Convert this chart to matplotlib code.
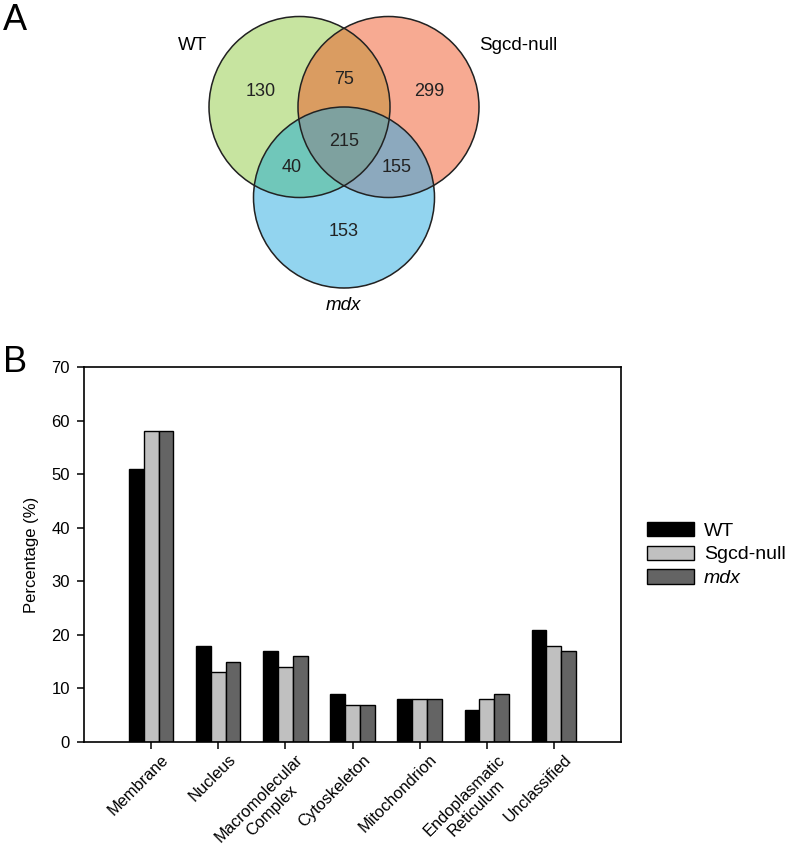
import numpy as np
import matplotlib
matplotlib.use("Agg")
from matplotlib import pyplot as plt
from matplotlib.patches import Circle
import matplotlib.transforms as mtransforms

plt.rcParams['font.family'] = ['Liberation Sans', 'DejaVu Sans']

# ---------------- data ----------------
venn_sets = ['WT', 'Sgcd-null', 'mdx']
# regions: WT only, Sgcd only, mdx only, WT&Sgcd, WT&mdx, Sgcd&mdx, all three
venn_counts = [130, 299, 153, 75, 40, 155, 215]

categories = ['Membrane', 'Nucleus', 'Macromolecular\nComplex', 'Cytoskeleton',
              'Mitochondrion', 'Endoplasmatic\nReticulum', 'Unclassified']
wt = [51, 18, 17, 9, 8, 6, 21]
sgcd = [58, 13, 14, 7, 8, 8, 18]
mdx = [58, 15, 16, 7, 8, 9, 17]

W, H = 793, 848
fig = plt.figure(figsize=(W / 100, H / 100), dpi=100)

#--------------------------Venn (A)-----------------------------------------
vh = 320
axv = fig.add_axes([0, 1 - vh / H, 1, vh / H])
axv.set_xlim(0, W)
axv.set_ylim(vh, 0)
axv.axis('off')

r = 90.5
centros = [(299.5, 107.0), (388.5, 107.0), (344.0, 197.5)]

x0, x1, y0, y1 = 200, 490, 10, 300
xs = np.linspace(x0, x1, 1160)
ys = np.linspace(y0, y1, 1160)
X, Y = np.meshgrid(xs, ys)
inA = (X - centros[0][0])**2 + (Y - centros[0][1])**2 <= r**2
inB = (X - centros[1][0])**2 + (Y - centros[1][1])**2 <= r**2
inC = (X - centros[2][0])**2 + (Y - centros[2][1])**2 <= r**2

def hexrgb(h):
    h = h.lstrip('#')
    return [int(h[i:i+2], 16) / 255 for i in (0, 2, 4)]

img = np.zeros((len(ys), len(xs), 4))
regiones = [
    (inA & ~inB & ~inC, '#c8e4a0'),
    (inB & ~inA & ~inC, '#f7ab93'),
    (inC & ~inA & ~inB, '#92d4f0'),
    (inA & inB & ~inC, '#da9c62'),
    (inA & inC & ~inB, '#70c8ba'),
    (inB & inC & ~inA, '#8ca9bf'),
    (inA & inB & inC, '#7ea19f'),
]
for m, c in regiones:
    img[m, :3] = hexrgb(c)
    img[m, 3] = 1.0
axv.imshow(img, extent=(x0, x1, y1, y0), origin='upper', interpolation='antialiased', zorder=1)
for c in centros:
    axv.add_patch(Circle(c, r, fill=False, edgecolor='#222222', lw=1.1, zorder=2))

pos_num = [(261, 92), (429, 92), (344, 232), (344, 79), (292, 168), (397, 168), (344, 141)]
for (px, py), n in zip(pos_num, venn_counts):
    axv.text(px, py, str(n), ha='center', va='center', fontsize=13, color='#222222', zorder=3)

axv.text(192, 45, venn_sets[0], ha='center', va='center', fontsize=13.5)
axv.text(518, 45, venn_sets[1], ha='center', va='center', fontsize=13.5)
axv.text(343, 306, venn_sets[2], ha='center', va='center', fontsize=13.5, style='italic')
axv.text(3, 20, 'A', ha='left', va='center', fontsize=26)

#--------------------------Barras (B)---------------------------------------
left, right, top, bottom = 84, 621, 367, 742
ax = fig.add_axes([left / W, 1 - bottom / H, (right - left) / W, (bottom - top) / H])
x = np.arange(len(categories))
bw = 0.22
ax.bar(x - bw, wt, bw, color='black', edgecolor='black', lw=1.0, label='WT')
ax.bar(x, sgcd, bw, color='#c0c0c0', edgecolor='black', lw=1.0, label='Sgcd-null')
ax.bar(x + bw, mdx, bw, color='#646464', edgecolor='black', lw=1.0, label='mdx')

ax.set_xlim(-1, len(categories))
ax.set_ylim(0, 70)
ax.set_yticks(np.arange(0, 71, 10))
ax.set_xticks(x)
ax.set_xticklabels([''] * len(categories))
# etiquetas rotadas con desplazamiento a la derecha
desp = ax.get_xaxis_transform() + mtransforms.ScaledTranslation(10 / 100, -10 / 100, fig.dpi_scale_trans)
for xi, cat in zip(x, categories):
    ax.text(xi, 0, cat, transform=desp, rotation=45, ha='right', va='top',
            rotation_mode='anchor', multialignment='center', fontsize=11.8)
ax.tick_params(axis='y', labelsize=12, length=5, width=1.1, pad=5)
ax.tick_params(axis='x', length=5, width=1.1, pad=4)
for s in ax.spines.values():
    s.set_linewidth(1.2)
ax.set_ylabel('Percentage (%)', fontsize=12, labelpad=9)

leg = ax.legend(loc='center left', bbox_to_anchor=(1.048, 0.5), frameon=False,
                fontsize=14, handlelength=2.45, handleheight=0.75,
                handletextpad=0.5, labelspacing=0.3, borderpad=0, borderaxespad=0)
leg.get_texts()[2].set_style('italic')

fig.text(3 / W, 1 - 363 / H, 'B', ha='left', va='center', fontsize=26)

fig.savefig('out.png', dpi=100)
